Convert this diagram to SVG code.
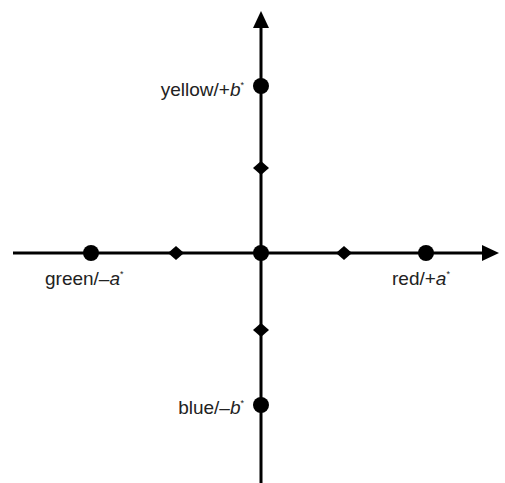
<svg xmlns="http://www.w3.org/2000/svg" width="505" height="483" viewBox="0 0 505 483">
<style>
.ax{stroke:#000;stroke-width:3;fill:none}
.dot{fill:#000}
.lbl{font-family:"Liberation Sans",Arial,sans-serif;font-size:19px;fill:#222}
.i{font-style:italic}
.s{font-size:9px}
</style>
<defs>
<marker id="arr" markerUnits="userSpaceOnUse" markerWidth="20" markerHeight="16" refX="2" refY="8" orient="auto">
<path d="M0,0 L17,8 L0,16 Z" fill="#000"/>
</marker>
</defs>
<rect width="505" height="483" fill="#fff"/>
<g id="connectors">
<line class="ax" x1="13" y1="253" x2="484" y2="253" marker-end="url(#arr)"/>
<line class="ax" x1="261" y1="483" x2="261" y2="26" marker-end="url(#arr)"/>
</g>
<g id="origin"><circle class="dot" cx="261" cy="253" r="8"/></g>
<g id="yellow"><circle class="dot" cx="261" cy="86" r="8"/>
<text class="lbl" x="244" y="96" text-anchor="end">yellow/+<tspan class="i">b</tspan><tspan class="s" dy="-8">*</tspan></text></g>
<g id="blue"><circle class="dot" cx="261" cy="405" r="8"/>
<text class="lbl" x="244" y="414" text-anchor="end">blue/–<tspan class="i">b</tspan><tspan class="s" dy="-8">*</tspan></text></g>
<g id="green"><circle class="dot" cx="91" cy="253" r="8"/>
<text class="lbl" x="45" y="285">green/–<tspan class="i">a</tspan><tspan class="s" dy="-8">*</tspan></text></g>
<g id="red"><circle class="dot" cx="426" cy="253" r="8"/>
<text class="lbl" x="392" y="285">red/+<tspan class="i">a</tspan><tspan class="s" dy="-8">*</tspan></text></g>
<g id="d-up"><path class="dot" d="M261,161 L269,168 L261,175 L253,168 Z"/></g>
<g id="d-down"><path class="dot" d="M261,323 L269,330 L261,337 L253,330 Z"/></g>
<g id="d-left"><path class="dot" d="M176,246 L184,253 L176,260 L168,253 Z"/></g>
<g id="d-right"><path class="dot" d="M344,246 L352,253 L344,260 L336,253 Z"/></g>
</svg>
